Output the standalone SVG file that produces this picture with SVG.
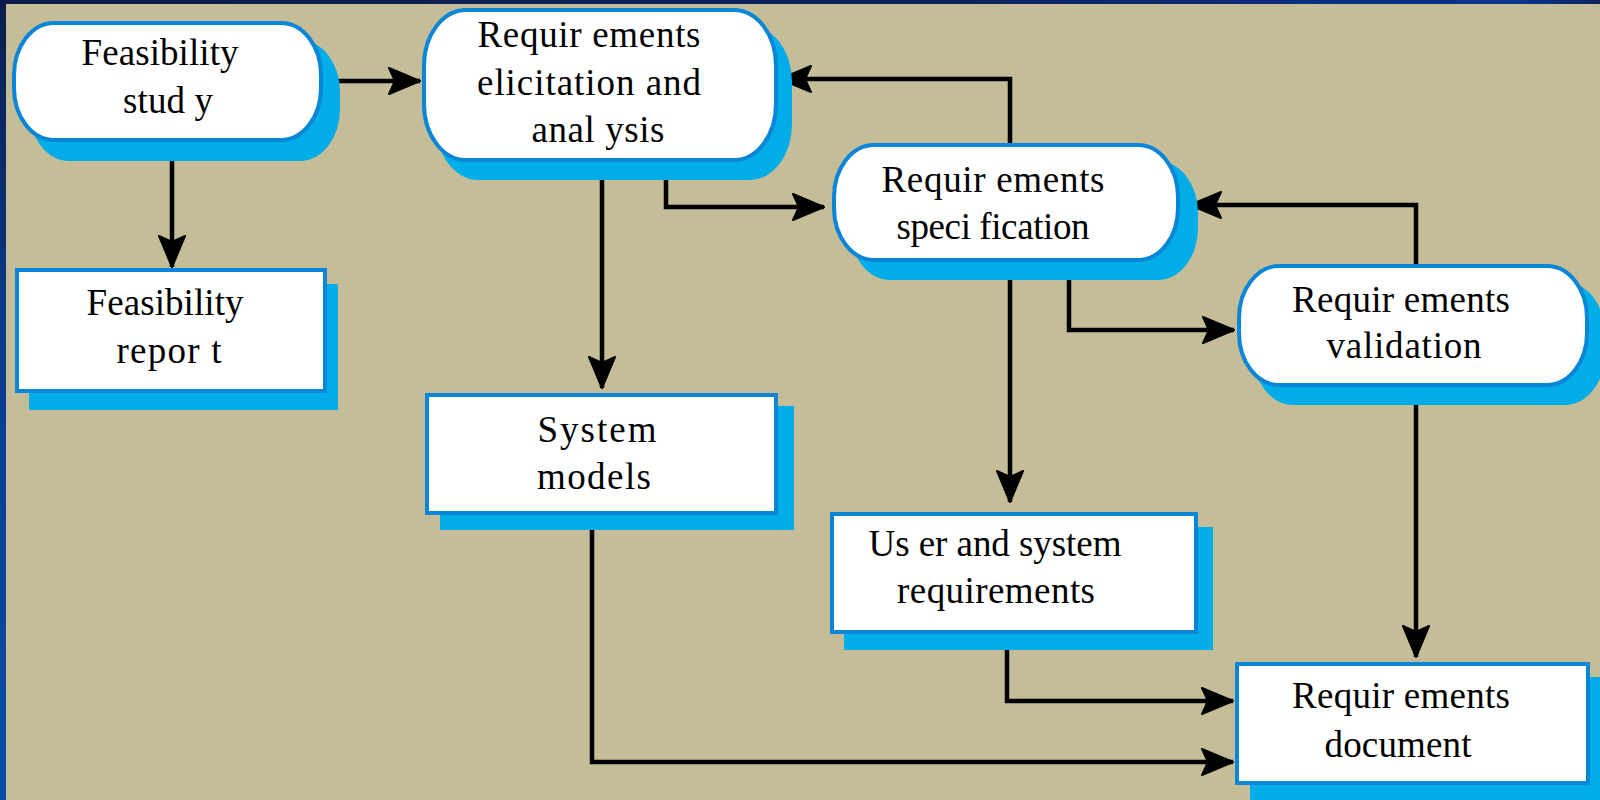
<svg xmlns="http://www.w3.org/2000/svg" width="1600" height="800" viewBox="0 0 1600 800">
  <defs>
    <linearGradient id="edgeLeft" x1="0" y1="0" x2="0" y2="1">
      <stop offset="0" stop-color="#0B1C4C"/>
      <stop offset="0.4" stop-color="#0A3A8A"/>
      <stop offset="1" stop-color="#0A4DA8"/>
    </linearGradient>
    <linearGradient id="edgeTop" x1="0" y1="0" x2="1" y2="0">
      <stop offset="0" stop-color="#0B1C4C"/>
      <stop offset="0.6" stop-color="#0B2260"/>
      <stop offset="0.95" stop-color="#0A3590"/>
      <stop offset="1" stop-color="#0B2260"/>
    </linearGradient>
    <marker id="arrow" markerUnits="userSpaceOnUse" markerWidth="34" markerHeight="28" viewBox="0 0 34 28" refX="32" refY="14" orient="auto">
      <path d="M1,1 L32,14 L1,27 L7,14 Z" fill="#000" stroke="#000" stroke-width="2" stroke-linejoin="round"/>
    </marker>
    <style>
      .shadow { fill: #00ADE8; }
      .box { fill: #FFFFFF; stroke: #0A86D8; stroke-width: 4; }
      .label { font-family: "Liberation Serif", "Times New Roman", serif; font-size: 37px; fill: #000; text-anchor: middle; }
      .link { fill: none; stroke: #000; stroke-width: 4.5; marker-end: url(#arrow); }
    </style>
  </defs>

  <!-- backdrop -->
  <rect x="0" y="0" width="1600" height="800" fill="#C4BD98"/>
  <rect x="0" y="0" width="6" height="800" fill="url(#edgeLeft)"/>
  <rect x="0" y="0" width="1600" height="4" fill="url(#edgeTop)"/>

  <!-- connectors -->
  <g id="connectors">
    <path class="link" d="M324,81 H420"/>
    <path class="link" d="M172,143 V267"/>
    <path class="link" d="M602,162 V388"/>
    <path class="link" d="M666,162 V207 H824"/>
    <path class="link" d="M1010,143 V79 H780"/>
    <path class="link" d="M1010,262 V502"/>
    <path class="link" d="M1069,262 V330 H1234"/>
    <path class="link" d="M1416,264 V205 H1190"/>
    <path class="link" d="M1416,387 V657"/>
    <path class="link" d="M1007,634 V701 H1233"/>
    <path class="link" d="M592,515 V762 H1233"/>
  </g>

  <!-- process steps (rounded) -->
  <g id="feasibility-study">
    <rect class="shadow" x="29" y="40" width="311" height="121" rx="40" ry="52"/>
    <rect class="box" x="14" y="23" width="307" height="117" rx="40" ry="52"/>
    <text class="label" x="160" y="65" textLength="157" lengthAdjust="spacing">Feasibility</text>
    <text class="label" x="168" y="113" textLength="90" lengthAdjust="spacing">stud y</text>
  </g>

  <g id="elicitation">
    <rect class="shadow" x="436" y="26" width="356" height="154" rx="42" ry="56"/>
    <rect class="box" x="424" y="10" width="352" height="150" rx="42" ry="56"/>
    <text class="label" x="589" y="47" textLength="223" lengthAdjust="spacing">Requir ements</text>
    <text class="label" x="589" y="95" textLength="224" lengthAdjust="spacing">elicitation and</text>
    <text class="label" x="598" y="142" textLength="133" lengthAdjust="spacing">anal ysis</text>
  </g>

  <g id="specification">
    <rect class="shadow" x="850" y="161" width="348" height="119" rx="40" ry="52"/>
    <rect class="box" x="834" y="145" width="344" height="115" rx="40" ry="52"/>
    <text class="label" x="993" y="192" textLength="223" lengthAdjust="spacing">Requir ements</text>
    <text class="label" x="993" y="239" textLength="193" lengthAdjust="spacing">speci fication</text>
  </g>

  <g id="validation">
    <rect class="shadow" x="1253" y="282" width="352" height="123" rx="40" ry="52"/>
    <rect class="box" x="1239" y="266" width="348" height="119" rx="40" ry="52"/>
    <text class="label" x="1401" y="312" textLength="218" lengthAdjust="spacing">Requir ements</text>
    <text class="label" x="1404" y="358" textLength="155" lengthAdjust="spacing">validation</text>
  </g>

  <!-- documents produced (rectangles) -->
  <g id="feasibility-report">
    <rect class="shadow" x="29" y="284" width="309" height="126"/>
    <rect class="box" x="17" y="270" width="308" height="121"/>
    <text class="label" x="165" y="315" textLength="157" lengthAdjust="spacing">Feasibility</text>
    <text class="label" x="169" y="363" textLength="105" lengthAdjust="spacing">repor t</text>
  </g>

  <g id="system-models">
    <rect class="shadow" x="440" y="406" width="354" height="124"/>
    <rect class="box" x="427" y="395" width="349" height="118"/>
    <text class="label" x="597" y="442" textLength="119" lengthAdjust="spacing">System</text>
    <text class="label" x="594" y="489" textLength="114" lengthAdjust="spacing">models</text>
  </g>

  <g id="user-system-requirements">
    <rect class="shadow" x="844" y="527" width="369" height="123"/>
    <rect class="box" x="832" y="514" width="364" height="118"/>
    <text class="label" x="995" y="556" textLength="253" lengthAdjust="spacing">Us er and system</text>
    <text class="label" x="996" y="603" textLength="198" lengthAdjust="spacing">requirements</text>
  </g>

  <g id="requirements-document">
    <rect class="shadow" x="1250" y="677" width="360" height="130"/>
    <rect class="box" x="1237" y="664" width="351" height="119"/>
    <text class="label" x="1401" y="708" textLength="218" lengthAdjust="spacing">Requir ements</text>
    <text class="label" x="1398" y="757" textLength="147" lengthAdjust="spacing">document</text>
  </g>
</svg>
